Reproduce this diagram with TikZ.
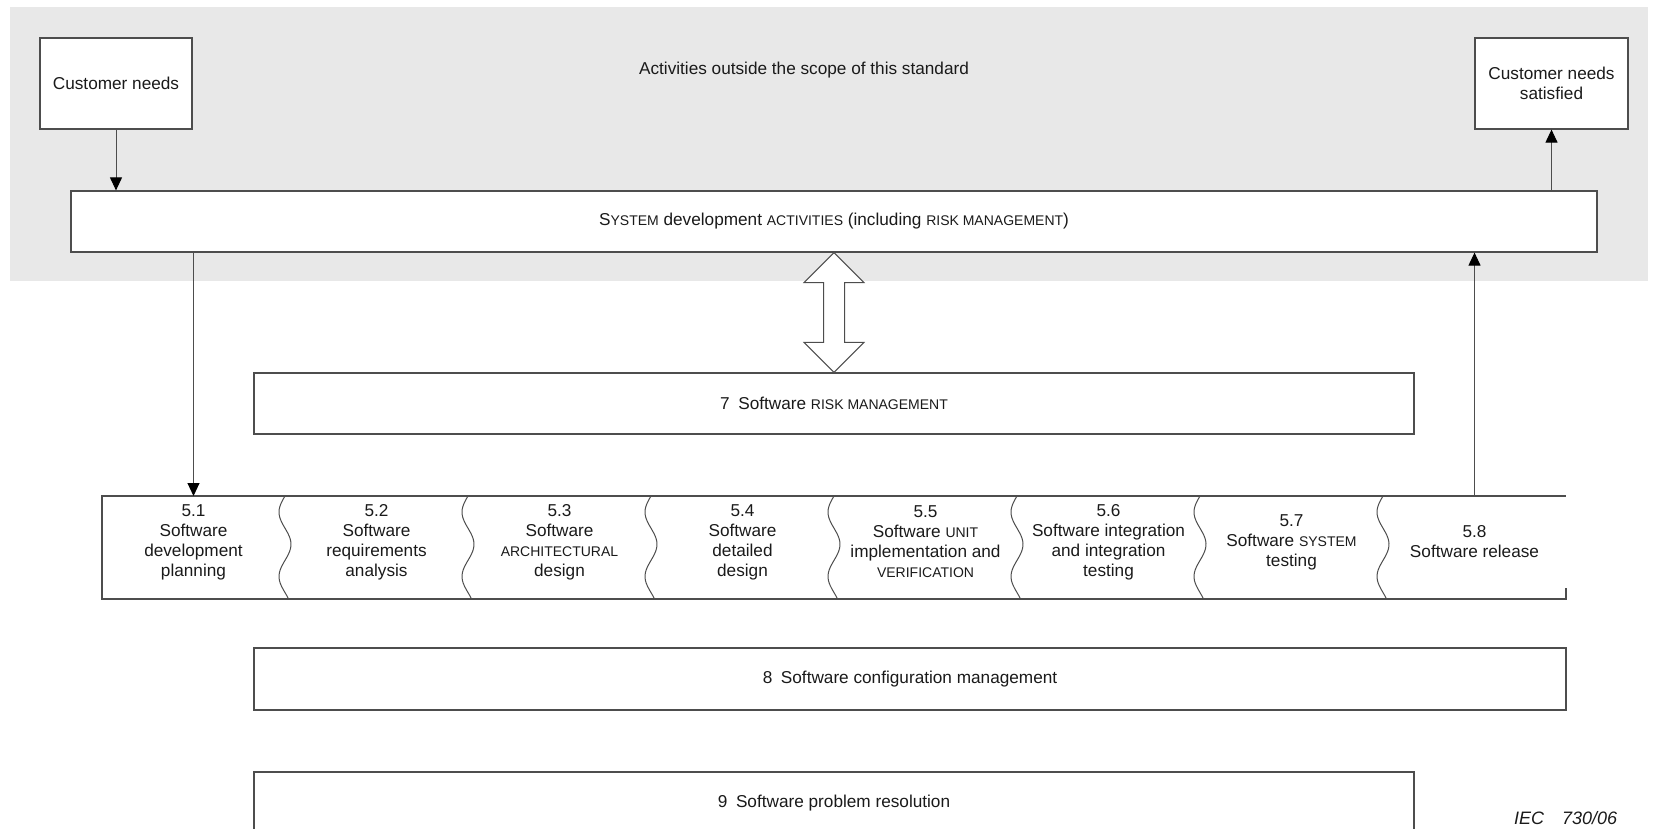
\documentclass[tikz,border=0pt]{standalone}
\usepackage{fontspec}
\setmainfont{Liberation Sans}
\usetikzlibrary{arrows.meta,calc}
\definecolor{band}{HTML}{E8E8E8}
\definecolor{ln}{HTML}{4D4D4D}
\definecolor{txt}{HTML}{1A1A1A}
\newcommand\mysc[1]{{\fontsize{7}{10}\selectfont #1}}
\begin{document}
\begin{tikzpicture}[x=0.5pt,y=-0.5pt,
  font=\fontsize{8.6}{10}\selectfont, text=txt,
  box/.style={draw=ln, line width=0.6pt, fill=white, inner sep=0pt, align=center},
  cell/.style={inner sep=0pt, align=center},
  arr/.style={draw=ln, line width=0.5pt, -{Triangle[length=6.5pt,width=6pt,color=black]}},
  thin line/.style={draw=ln, line width=0.6pt}]
\path[use as bounding box, clip] (0,0) rectangle (1658,829);
\fill[band] (10,7) rectangle (1648,281);

\node[box, minimum width=76pt, minimum height=45.5pt] (cust) at (116,83.5) {Customer needs};
\node[box, minimum width=76.5pt, minimum height=45.5pt] (sat) at (1551.5,83.5) {Customer needs\\satisfied};
\node[cell] (scope) at (804,70) {Activities outside the scope of this standard};
\node[box, minimum width=763pt, minimum height=30.5pt] (sys) at (834,221.5)
  {S\mysc{YSTEM} development \mysc{ACTIVITIES} (including \mysc{RISK MANAGEMENT})};
\node[box, minimum width=580pt, minimum height=30.5pt] (risk) at (834,403.5)
  {7\enspace Software \mysc{RISK MANAGEMENT}};
\node[box, minimum width=656pt, minimum height=31pt] (cfg) at (910,679)
  {8\enspace Software configuration management};
\node[box, minimum width=580pt, minimum height=31pt] (prob) at (834,803)
  {9\enspace Software problem resolution};

\coordinate (rowtop) at (0,496);
\draw[thin line] (1566,588) -- (1566,599) -- (102,599) -- (102,496) -- (1566,496);
\foreach \i in {1,...,7}
  \draw[draw=ln, line width=0.5pt] plot[domain=0:1, samples=40, smooth, variable=\t]
    ({102+183*\i - 6*sin(576*\t)}, {496+103*\t});

\node[cell] (c1) at (193.5,542) {5.1\\Software\\development\\planning};
\node[cell] (c2) at (376.5,542) {5.2\\Software\\requirements\\analysis};
\node[cell] (c3) at (559.5,542) {5.3\\Software\\\mysc{ARCHITECTURAL}\\design};
\node[cell] (c4) at (742.5,542) {5.4\\Software\\detailed\\design};
\node[cell] (c5) at (925.5,542) {5.5\\Software \mysc{UNIT}\\implementation and\\\mysc{VERIFICATION}};
\node[cell] (c6) at (1108.5,542) {5.6\\Software integration\\and integration\\testing};
\node[cell] (c7) at (1291.5,542) {5.7\\Software \mysc{SYSTEM}\\testing};
\node[cell] (c8) at (1474.5,542) {5.8\\Software release};

\draw[arr] (cust.south) -- (cust.south |- sys.north);
\draw[arr] (sys.north -| sat.south) -- (sat.south);
\draw[arr] (c1 |- sys.south) -- (c1 |- rowtop);
\draw[arr] (c8 |- rowtop) -- (c8 |- sys.south);

\coordinate (dt) at (sys.south);
\coordinate (db) at (risk.north);
\draw[draw=ln, fill=white, line width=0.5pt]
  (dt) -- ($(dt)+(30,30)$) -- ($(dt)+(10.5,30)$) -- ($(db)+(10.5,-30)$)
  -- ($(db)+(30,-30)$) -- (db) -- ($(db)+(-30,-30)$) -- ($(db)+(-10.5,-30)$)
  -- ($(dt)+(-10.5,30)$) -- ($(dt)+(-30,30)$) -- cycle;

\node[anchor=base west, font=\fontsize{9}{11}\selectfont\itshape] (iec) at (1507,824) {IEC\quad 730/06};
\end{tikzpicture}
\end{document}
